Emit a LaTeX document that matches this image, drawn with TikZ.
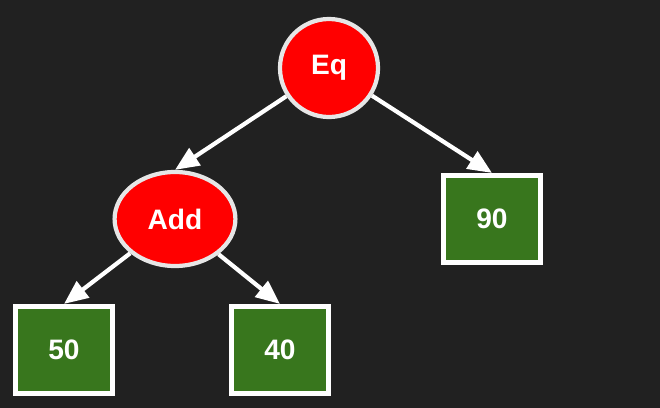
\documentclass[tikz,border=0pt]{standalone}
\usepackage{fontspec}
\setmainfont{Liberation Sans}
\usetikzlibrary{shapes.geometric,arrows.meta}
\definecolor{bgdark}{HTML}{212121}
\definecolor{leafgreen}{HTML}{38761D}
\definecolor{oprim}{HTML}{E6E6E6}
\tikzset{
  opnode/.style={ellipse, fill=red, draw=oprim, line width=3pt, text=white,
    font=\fontsize{20}{24}\selectfont\bfseries, inner sep=0pt},
  numnode/.style={rectangle, fill=leafgreen, draw=white, line width=3.5pt, text=white,
    font=\fontsize{20}{24}\selectfont\bfseries, minimum width=2.43cm, minimum height=2.18cm},
  link/.style={draw=white, line width=3pt, -{Triangle[length=0.6cm,width=0.5cm]}}
}
\begin{document}
\begin{tikzpicture}[x=0.025cm,y=-0.025cm]
			\fill[bgdark] (0,0) rectangle (660,408);
			\node[opnode, minimum width=2.45cm, minimum height=2.45cm] (eq) at (329,68) {Eq};
			\node[opnode, minimum width=3.02cm, minimum height=2.35cm] (add) at (175,219) {Add};
			\node[numnode] (n90) at (492,219) {90};
			\node[numnode] (n50) at (64,350) {50};
			\node[numnode] (n40) at (280,350) {40};
			\foreach \a/\b in {eq/add,eq/n90,add/n50,add/n40}
				\draw[link] (\a) -- (\b.north);
			\end{tikzpicture}
\end{document}
